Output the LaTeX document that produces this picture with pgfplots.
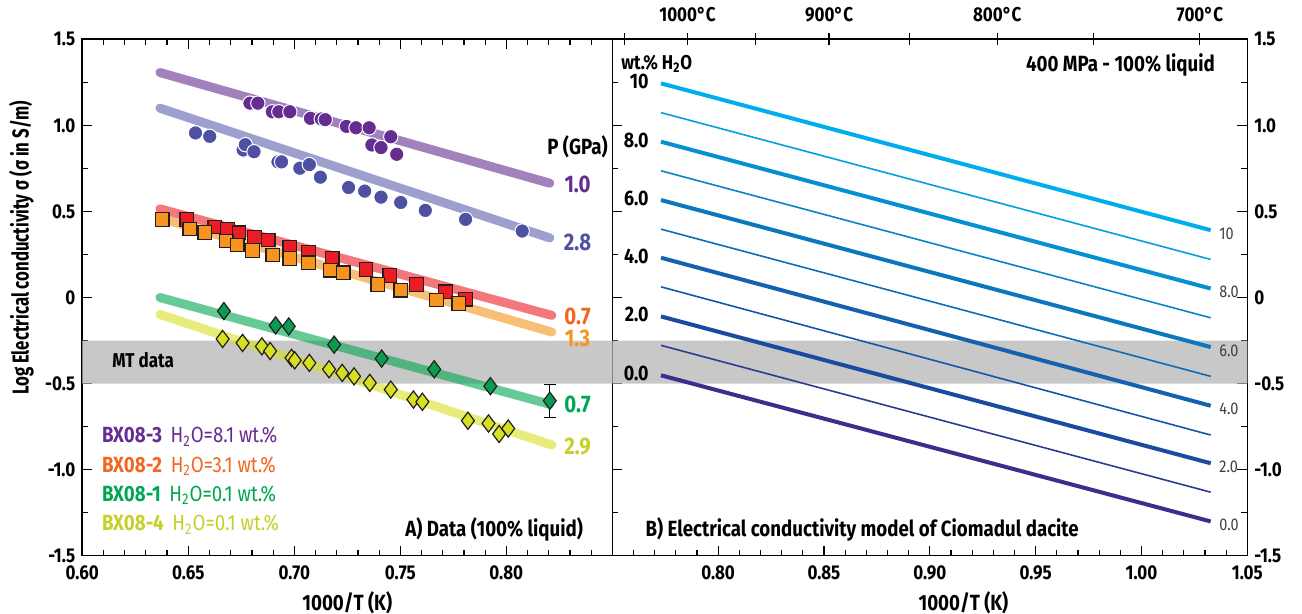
\documentclass[border=0pt]{standalone}
\usepackage{fontspec}
\setmainfont{Fira Sans}[FakeStretch=0.85]
\newfontfamily\narrowfont{Fira Sans}[FakeStretch=0.73]
\usepackage{pgfplots}
\pgfplotsset{compat=1.18}

% sample colours
\definecolor{cPurple}{HTML}{662D91}
\definecolor{cSlate}{HTML}{4E50A2}
\definecolor{cSlateLine}{HTML}{5C5FAB}
\definecolor{cRed}{HTML}{ED1C24}
\definecolor{cOrange}{HTML}{F7941D}
\definecolor{cOrangeTxt}{HTML}{F26522}
\definecolor{cGreen}{HTML}{00A651}
\definecolor{cGreenPt}{HTML}{0A9B4E}
\definecolor{cYellow}{HTML}{D7DF23}
\definecolor{cYellowTxt}{HTML}{C5D02A}
\definecolor{cBand}{HTML}{C8C8C8}
\definecolor{cEdge}{HTML}{231F20}
% water-content model lines, from dry to 10 wt.%
\definecolor{w0}{HTML}{3B2E8E}
\definecolor{w1}{HTML}{2E3A94}
\definecolor{w2}{HTML}{1B4A9E}
\definecolor{w3}{HTML}{1656A8}
\definecolor{w4}{HTML}{1262AE}
\definecolor{w5}{HTML}{0E6DB6}
\definecolor{w6}{HTML}{0A77BE}
\definecolor{w7}{HTML}{0783C8}
\definecolor{w8}{HTML}{0590D2}
\definecolor{w9}{HTML}{029FE0}
\definecolor{w10}{HTML}{00AEEF}

\pgfplotsset{
  common/.style={
    scale only axis, height=258.2pt,
    ymin=-1.5, ymax=1.5,
    ytick={-1.5,-1,-0.5,0,0.5,1,1.5},
    yticklabels={-1.5,-1.0,-0.5,0,0.5,1.0,1.5},
    minor y tick num=1, minor x tick num=4,
    tick align=inside, major tick length=5pt, minor tick length=3pt,
    axis line style={line width=0.8pt, black},
    tick style={line width=0.6pt, black},
    tick label style={font=\fontsize{10}{12}\selectfont\bfseries},
    x tick label style={yshift=-1.5pt},
    label style={font=\fontsize{11}{13}\selectfont\bfseries},
    clip=false,
  },
  fitline/.style={line width=4.5pt, opacity=0.6, line cap=round},
  model/.style={line width=2pt},
  modelthin/.style={line width=0.8pt},
}

\begin{document}
\begin{tikzpicture}
\useasboundingbox (-41.15pt,-29.15pt) rectangle (609.85pt,277.85pt);

% ---------------- A) experimental data ----------------
\begin{axis}[common, width=265pt,
  xmin=0.6, xmax=0.85,
  xtick={0.6,0.65,0.7,0.75,0.8,0.85},
  xticklabels={0.60,0.65,0.70,0.75,0.80,},
  ytick pos=left,
  xlabel={1000/T (K)},
  xlabel style={at={(axis description cs:0.5,0)}, anchor=center, yshift=-23.6pt},
  ylabel={\narrowfont\bfseries Log Electrical conductivity σ (σ in S/m)},
  ylabel style={at={(axis description cs:-0.115,0.596)}, anchor=center, font=\fontsize{11.5}{13}\selectfont},
]
% MT data band
\addplot[fill=cBand, draw=none] coordinates {(0.6,-0.5) (0.85,-0.5) (0.85,-0.25) (0.6,-0.25) (0.6,-0.5)};

% fitted trends
\addplot[fitline, cPurple]    coordinates {(0.6366,1.307) (0.8205,0.664)};
\addplot[fitline, cSlateLine] coordinates {(0.6366,1.100) (0.8205,0.346)};
\addplot[fitline, cRed]       coordinates {(0.6366,0.515) (0.8215,-0.104)};
\addplot[fitline, cOrange]    coordinates {(0.6366,0.462) (0.8215,-0.201)};
\addplot[fitline, cGreen]     coordinates {(0.6366,0.000) (0.8205,-0.620)};
\addplot[fitline, cYellow]    coordinates {(0.6366,-0.098) (0.8215,-0.857)};

% BX08-3, 1.0 GPa
\addplot[only marks, mark=*, mark size=3.6pt, mark options={fill=cPurple, draw=white, line width=0.5pt}] coordinates {
  (0.6791,1.129) (0.6828,1.129) (0.6896,1.079) (0.6927,1.079) (0.6979,1.079)
  (0.7076,1.041) (0.7127,1.037) (0.7146,1.033) (0.7246,0.994) (0.7291,0.986)
  (0.7353,0.986) (0.7366,0.886) (0.7409,0.871) (0.7455,0.934) (0.7483,0.832)};
% BX08-3, 2.8 GPa
\addplot[only marks, mark=*, mark size=3.6pt, mark options={fill=cSlate, draw=white, line width=0.5pt}] coordinates {
  (0.6534,0.956) (0.6601,0.936) (0.6759,0.857) (0.6769,0.888) (0.6810,0.847)
  (0.6923,0.788) (0.6940,0.788) (0.7026,0.751) (0.7071,0.772) (0.7123,0.699)
  (0.7256,0.639) (0.7332,0.618) (0.7409,0.583) (0.7502,0.552) (0.7618,0.506)
  (0.7808,0.454) (0.8075,0.386)};
% BX08-2, 0.7 GPa
\addplot[only marks, mark=square*, mark size=3.4pt, mark options={fill=cRed, draw=cEdge, line width=0.6pt}] coordinates {
  (0.6493,0.454) (0.6625,0.409) (0.6685,0.394) (0.6739,0.376) (0.6812,0.351)
  (0.6877,0.334) (0.6979,0.293) (0.7067,0.263) (0.7179,0.228) (0.7338,0.162)
  (0.7450,0.127) (0.7576,0.075) (0.7714,0.033) (0.7808,-0.010)};
% BX08-2, 1.3 GPa
\addplot[only marks, mark=square*, mark size=3.4pt, mark options={fill=cOrange, draw=cEdge, line width=0.6pt}] coordinates {
  (0.6377,0.452) (0.6507,0.398) (0.6578,0.378) (0.6679,0.328) (0.6731,0.305)
  (0.6802,0.274) (0.6899,0.247) (0.6979,0.226) (0.7067,0.201) (0.7170,0.158)
  (0.7231,0.143) (0.7394,0.075) (0.7502,0.042) (0.7670,-0.015) (0.7776,-0.035)};
% BX08-1 error bar
\addplot[draw=none, mark=none, error bars/.cd, y dir=both, y explicit,
  error bar style={draw=black, line width=0.6pt},
  error mark options={rotate=90, mark size=3pt, draw=black, line width=0.6pt}]
  coordinates {(0.8205,-0.600) +- (0,0.095)};
% BX08-1, 0.7 GPa
\addplot[only marks, mark=diamond*, mark size=4.3pt, mark options={fill=cGreenPt, draw=cEdge, line width=0.6pt}] coordinates {
  (0.6668,-0.079) (0.6912,-0.162) (0.6974,-0.168) (0.7188,-0.274) (0.7412,-0.355)
  (0.7660,-0.417) (0.7925,-0.515) (0.8205,-0.600)};
% BX08-4, 2.9 GPa
\addplot[only marks, mark=diamond*, mark size=4.3pt, mark options={fill=cYellow, draw=cEdge, line width=0.6pt}] coordinates {
  (0.6662,-0.241) (0.6756,-0.264) (0.6847,-0.284) (0.6886,-0.311) (0.6987,-0.351)
  (0.7002,-0.365) (0.7071,-0.380) (0.7164,-0.417) (0.7226,-0.438) (0.7282,-0.458)
  (0.7356,-0.496) (0.7455,-0.535) (0.7562,-0.593) (0.7604,-0.606) (0.7819,-0.716)
  (0.7916,-0.732) (0.7966,-0.793) (0.8009,-0.761)};

% pressure labels
\node[font=\fontsize{11}{13}\selectfont\bfseries] at (axis cs:0.8336,0.873) {P (GPa)};
\begin{scope}[every node/.style={inner sep=0.5pt, font=\fontsize{12}{14}\selectfont\bfseries}]
\node[text=cPurple]    at (axis cs:0.8336,0.654)  {1.0};
\node[text=cSlate]     at (axis cs:0.8336,0.322)  {2.8};
\node[text=cOrangeTxt] at (axis cs:0.8336,-0.110) {0.7};
\node[text=cOrange]    at (axis cs:0.8336,-0.236) {1.3};
\node[text=cGreen]     at (axis cs:0.8336,-0.620) {0.7};
\node[text=cYellowTxt] at (axis cs:0.8336,-0.867) {2.9};
\end{scope}

\node[font=\fontsize{10}{12}\selectfont\bfseries] at (axis cs:0.6287,-0.361) {MT data};

% sample key
\begin{scope}[every node/.style={anchor=west, font=\fontsize{11}{13}\selectfont}]
\node[text=cPurple]    at (axis cs:0.606,-0.809) {\textbf{BX08-3}\, H\textsubscript{2}O=8.1 wt.\%};
\node[text=cOrangeTxt] at (axis cs:0.606,-0.979) {\textbf{BX08-2}\, H\textsubscript{2}O=3.1 wt.\%};
\node[text=cGreen]     at (axis cs:0.606,-1.147) {\textbf{BX08-1}\, H\textsubscript{2}O=0.1 wt.\%};
\node[text=cYellowTxt] at (axis cs:0.606,-1.320) {\textbf{BX08-4}\, H\textsubscript{2}O=0.1 wt.\%};
\end{scope}

\node[anchor=east, font=\fontsize{11}{13}\selectfont\bfseries] at (axis cs:0.8395,-1.346) {A) Data (100\% liquid)};
\end{axis}

% ---------------- B) conductivity model ----------------
\begin{axis}[common, at={(265pt,0)}, width=317.5pt,
  xmin=0.75, xmax=1.05,
  xtick={0.75,0.8,0.85,0.9,0.95,1.0,1.05},
  xticklabels={,0.80,0.85,0.90,0.95,1.00,1.05},
  xtick pos=bottom,
  yticklabel pos=right,
  xlabel={1000/T (K)},
  xlabel style={at={(axis description cs:0.553,0)}, anchor=center, yshift=-23.6pt},
]
\addplot[fill=cBand, draw=none] coordinates {(0.75,-0.5) (1.05,-0.5) (1.05,-0.25) (0.75,-0.25) (0.75,-0.5)};

\addplot[modelthin, w1] coordinates {(0.773,-0.278) (1.0327,-1.131)};
\addplot[modelthin, w3] coordinates {(0.773,0.062)  (1.0327,-0.799)};
\addplot[modelthin, w5] coordinates {(0.773,0.397)  (1.0327,-0.458)};
\addplot[modelthin, w7] coordinates {(0.773,0.736)  (1.0327,-0.118)};
\addplot[modelthin, w9] coordinates {(0.773,1.074)  (1.0327,0.221)};
\addplot[model, w0]  coordinates {(0.773,-0.452) (1.0327,-1.301)};
\addplot[model, w2]  coordinates {(0.773,-0.110) (1.0327,-0.963)};
\addplot[model, w4]  coordinates {(0.773,0.231)  (1.0327,-0.629)};
\addplot[model, w6]  coordinates {(0.773,0.566)  (1.0327,-0.288)};
\addplot[model, w8]  coordinates {(0.773,0.905)  (1.0327,0.052)};
\addplot[model, w10] coordinates {(0.773,1.244)  (1.0327,0.391)};

\begin{scope}[every node/.style={anchor=east, font=\fontsize{10.5}{12}\selectfont\bfseries}]
\node at (axis cs:0.7705,1.254)  {10};
\node at (axis cs:0.7705,0.915)  {8.0};
\node at (axis cs:0.7705,0.576)  {6.0};
\node at (axis cs:0.7705,0.241)  {4.0};
\node at (axis cs:0.7705,-0.100) {2.0};
\node at (axis cs:0.7705,-0.442) {0.0};
\end{scope}
\node[anchor=west, font=\fontsize{10}{12}\selectfont\bfseries] at (axis cs:0.751,1.36) {wt.\% H\textsubscript{2}O};

\begin{scope}[every node/.style={anchor=west, text=black!75, font=\fontsize{8.5}{10}\selectfont}]
\node at (axis cs:1.0335,0.371)  {10};
\node at (axis cs:1.0335,0.032)  {8.0};
\node at (axis cs:1.0335,-0.308) {6.0};
\node at (axis cs:1.0335,-0.649) {4.0};
\node at (axis cs:1.0335,-0.983) {2.0};
\node at (axis cs:1.0335,-1.321) {0.0};
\end{scope}

\node[anchor=east, font=\fontsize{11}{13}\selectfont\bfseries] at (axis cs:1.038,1.351) {400 MPa - 100\% liquid};
\node[anchor=west, font=\fontsize{11}{13}\selectfont\bfseries] at (axis cs:0.7624,-1.345) {B) Electrical conductivity model of Ciomadul dacite};
\end{axis}

% temperature scale along the top of B
\begin{axis}[scale only axis, at={(265pt,0)}, width=317.5pt, height=258.2pt,
  xmin=0.75, xmax=1.05, ymin=-1.5, ymax=1.5,
  hide y axis, axis x line*=top,
  xtick={0.75578,0.78555,0.81756,0.85241,0.89036,0.93188,0.97738,1.02760},
  xticklabels={,1000°C,,900°C,,800°C,,700°C},
  tick align=center, major tick length=6pt,
  axis line style={line width=0.8pt, black},
  tick style={line width=0.6pt, black},
  x tick label style={font=\fontsize{10}{12}\selectfont\bfseries, yshift=2pt},
]
\end{axis}
\end{tikzpicture}
\end{document}
